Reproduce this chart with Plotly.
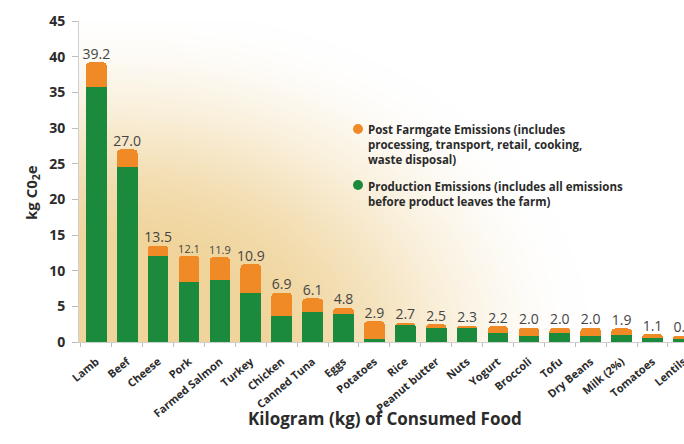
import base64
import struct
import zlib

import numpy as np
import plotly.graph_objects as go

# ---- data -------------------------------------------------------------
foods = [
    "Lamb", "Beef", "Cheese", "Pork", "Farmed Salmon", "Turkey", "Chicken",
    "Canned Tuna", "Eggs", "Potatoes", "Rice", "Peanut butter", "Nuts",
    "Yogurt", "Broccoli", "Tofu", "Dry Beans", "Milk (2%)", "Tomatoes", "Lentils",
]
total_emissions = [
    39.2, 27.0, 13.5, 12.1, 11.9, 10.9, 6.9, 6.1, 4.8, 2.9,
    2.7, 2.5, 2.3, 2.2, 2.0, 2.0, 2.0, 1.9, 1.1, 0.9,
]
production_emissions = [
    35.7, 24.5, 12.0, 8.4, 8.7, 6.9, 3.7, 4.2, 3.9, 0.45,
    2.35, 2.0, 1.9, 1.2, 0.9, 1.2, 0.85, 0.95, 0.5, 0.4,
]
post_farmgate_emissions = [round(t - p, 2) for t, p in zip(total_emissions, production_emissions)]
y_tick_values = [0, 5, 10, 15, 20, 25, 30, 35, 40, 45]

legend_post = "Post Farmgate Emissions (includes<br>processing, transport, retail, cooking,<br>waste disposal)"
legend_prod = "Production Emissions (includes all emissions<br>before product leaves the farm)"

# ---- styling ----------------------------------------------------------
GREEN = "#1c8a3c"
ORANGE = "#f08a26"
TEXT = "#2b2b2b"
FONT = "Open Sans"

W, H = 684, 444
M_L, M_R, M_T, M_B = 79, 0, 21, 102
PW, PH = W - M_L - M_R, H - M_T - M_B


def px_x(x):
    return (x - M_L) / PW


def px_y(y):
    return (H - M_B - y) / PH


def png_data_uri(rgb):
    h, w, _ = rgb.shape
    raw = b"".join(b"\x00" + rgb[r].tobytes() for r in range(h))

    def chunk(tag, data):
        body = tag + data
        return struct.pack(">I", len(data)) + body + struct.pack(">I", zlib.crc32(body) & 0xFFFFFFFF)

    png = (b"\x89PNG\r\n\x1a\n"
           + chunk(b"IHDR", struct.pack(">IIBBBBB", w, h, 8, 2, 0, 0, 0))
           + chunk(b"IDAT", zlib.compress(raw, 9))
           + chunk(b"IEND", b""))
    return "data:image/png;base64," + base64.b64encode(png).decode()


# warm glow rising from the lower-left of the plotting area
gx, gy = np.meshgrid(np.arange(PW), np.arange(PH))
d = np.sqrt(((gx - 40) / 470.0) ** 2 + ((gy - PH) / 335.0) ** 2)
s = np.clip((d - 0.25) / 0.75, 0, 1)
t = 1 - s * s * (3 - 2 * s)
tan = np.array([240, 212, 155], dtype=float)
glow = 255 - t[..., None] * (255 - tan)
glow_uri = png_data_uri(np.clip(glow, 0, 255).astype(np.uint8))

# ---- figure -----------------------------------------------------------
fig = go.Figure()
fig.add_trace(go.Bar(x=foods, y=production_emissions, marker_color=GREEN,
                     marker_line_width=0, name="Production Emissions"))
fig.add_trace(go.Bar(x=foods, y=post_farmgate_emissions, marker_color=ORANGE,
                     marker_line_width=0, name="Post Farmgate Emissions"))

label_sizes = [11 if v in (12.1, 11.9) else 14 for v in total_emissions]
fig.add_trace(go.Scatter(
    x=foods, y=total_emissions, mode="text",
    text=[f"{v:.1f}" for v in total_emissions],
    textposition="top center",
    textfont=dict(family=FONT, size=label_sizes, color="#454545"),
    cliponaxis=False, hoverinfo="skip",
))

fig.update_layout(
    width=W, height=H,
    margin=dict(l=M_L, r=M_R, t=M_T, b=M_B, autoexpand=False),
    paper_bgcolor="white", plot_bgcolor="rgba(0,0,0,0)",
    barmode="stack", bargap=0.33, barcornerradius=4,
    showlegend=False,
    font=dict(family=FONT, color=TEXT),
    images=[dict(source=glow_uri, xref="paper", yref="paper", x=0, y=1,
                 sizex=1, sizey=1, sizing="stretch", layer="below", xanchor="left", yanchor="top")],
)

fig.update_xaxes(
    range=[-0.56, 19.02], showline=True, linecolor="#cfcfcf", linewidth=1,
    ticks="outside", tickson="boundaries", ticklen=4, tickcolor="#bdbdbd",
    ticklabelstandoff=8,
    tickangle=-40, tickfont=dict(family=FONT, size=11, color=TEXT, weight="bold"),
    showgrid=False, automargin=False, zeroline=False,
)
fig.update_yaxes(
    range=[0, 45], tickvals=y_tick_values, showline=True, linecolor="#cfcfcf", linewidth=1,
    ticks="outside", ticklen=6, tickcolor="#bdbdbd", ticklabelstandoff=4,
    tickfont=dict(family=FONT, size=14, color=TEXT, weight="bold"),
    showgrid=False, automargin=False, zeroline=False,
)

annotations = [
    dict(text="kg C0<sub>2</sub>e", textangle=-90, x=px_x(19), y=px_y(193),
         xref="paper", yref="paper", showarrow=False,
         font=dict(family=FONT, size=15, color=TEXT, weight="bold")),
    dict(text="Kilogram (kg) of Consumed Food", x=px_x(385), y=px_y(432),
         xref="paper", yref="paper", showarrow=False,
         font=dict(family=FONT, size=17, color=TEXT, weight="bold")),
    dict(text=legend_post, x=px_x(366), y=px_y(120), xanchor="left", yanchor="top", align="left",
         xref="paper", yref="paper", showarrow=False,
         font=dict(family=FONT, size=11.5, color=TEXT, weight="bold")),
    dict(text=legend_prod, x=px_x(366), y=px_y(177), xanchor="left", yanchor="top", align="left",
         xref="paper", yref="paper", showarrow=False,
         font=dict(family=FONT, size=11.5, color=TEXT, weight="bold")),
]
fig.update_layout(annotations=annotations)

shapes = []
for color, cy in ((ORANGE, 129), (GREEN, 185)):
    shapes.append(dict(type="circle", xref="paper", yref="paper",
                       xsizemode="pixel", ysizemode="pixel",
                       xanchor=px_x(358), yanchor=px_y(cy),
                       x0=-5, x1=5, y0=-5, y1=5,
                       fillcolor=color, line_width=0))
fig.update_layout(shapes=shapes)

fig.write_html("out.html")
